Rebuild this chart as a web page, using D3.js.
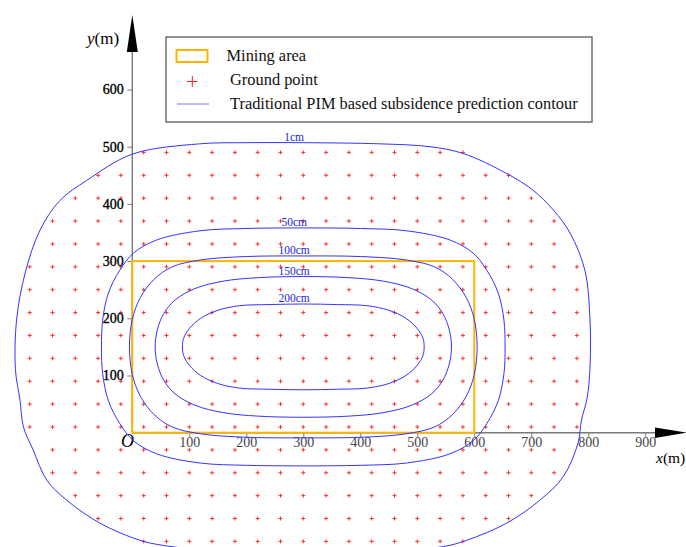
<!DOCTYPE html>
<html>
<head>
<meta charset="utf-8">
<script src="https://cdn.jsdelivr.net/npm/d3@7"></script>
<style>
body { margin: 0; background: #fff; }
text { font-family: "Liberation Serif", "Times New Roman", serif; }
</style>
</head>
<body>
<div id="chart"></div>
<script>
// tick values (m)
var xTicks = [100, 200, 300, 400, 500, 600, 700, 800, 900];
var yTicks = [100, 200, 300, 400, 500, 600];

// mining panel corners (m)
var miningArea = [[0, 0], [600, 300]];

// ground point grid: columns and rows (m), with the x span used in each row
var gridX = [-180, -140, -100, -60, -20, 20, 60, 100, 140, 180, 220, 260, 300, 340, 380,
  420, 460, 500, 540, 580, 620, 660, 700, 740, 780];
var rowY = [490, 450, 410, 370, 330, 290, 250, 210, 170, 130, 90, 50, 10, -30, -70, -110, -150, -190];
var rowSpan = [[20, 580], [-60, 660], [-100, 700], [-140, 740], [-140, 740], [-180, 780],
  [-180, 780], [-180, 780], [-180, 780], [-180, 780], [-180, 780], [-180, 780], [-180, 780],
  [-140, 740], [-140, 740], [-100, 700], [-60, 660], [20, 580]];

// contour levels and traced outlines (m)
var levels = ["1cm", "50cm", "100cm", "150cm", "200cm"];
var contour1 = [[300,507],[434,505],[522,500],[581,488],[657,453],[703,424],[739,389],[768,349],
  [794,284],[803,197],[803,115],[798,61],[788,22],[782,-18],[756,-77],[715,-118],[657,-158],
  [587,-188],[546,-199],[450,-207],[300,-209],[150,-207],[54,-197],[13,-188],[-57,-158],
  [-115,-118],[-150,-83],[-174,-30],[-191,10],[-197,57],[-205,110],[-203,197],[-188,279],
  [-162,354],[-127,406],[-80,441],[0,487],[118,505],[200,507]];
var contour50 = [[300,358],[400,357],[481,353],[557,337],[598,314],[622,284],[642,244],[652,197],
  [654,150],[652,103],[642,56],[622,16],[598,-14],[557,-37],[481,-53],[400,-57],[300,-58],
  [200,-57],[119,-53],[43,-37],[2,-14],[-22,16],[-42,56],[-52,103],[-54,150],[-52,197],
  [-42,244],[-22,284],[2,314],[43,337],[119,353],[200,357]];
var contour100 = [[300,309],[400,308],[480,302],[530,290],[562,268],[586,236],[600,198],[605,150],
  [600,102],[586,64],[562,32],[530,10],[480,-2],[400,-8],[300,-9],[200,-8],[120,-2],[70,10],
  [38,32],[14,64],[0,102],[-5,150],[0,198],[14,236],[38,268],[70,290],[120,302],[200,308]];
var contour150 = [[300,273],[380,271],[440,265],[490,252],[525,232],[545,208],[556,180],[560,150],
  [556,120],[545,92],[525,68],[490,48],[440,35],[380,29],[300,27],[220,29],[160,35],[110,48],
  [75,68],[55,92],[44,120],[40,150],[44,180],[55,208],[75,232],[110,252],[160,265],[220,271]];
var contour200 = [[300,225],[360,224],[412,222],[450,214],[480,200],[500,182],[510,165],[512,150],
  [510,135],[500,118],[480,100],[450,86],[412,78],[360,76],[300,75],[240,76],[188,78],[150,86],
  [120,100],[100,118],[90,135],[88,150],[90,165],[100,182],[120,200],[150,214],[188,222],[240,224]];
var contours = [contour1, contour50, contour100, contour150, contour200];
var labelX = 284;

var legendLabels = ["Mining area", "Ground point", "Traditional PIM based subsidence prediction contour"];

var svgWidth = 686, svgHeight = 547;
var ox = 132.3, oy = 432.7;

var svg = d3.select("#chart").append("svg")
  .attr("width", svgWidth)
  .attr("height", svgHeight);

var x = d3.scaleLinear().domain([0, 900]).range([ox, ox + 513]);
var y = d3.scaleLinear().domain([0, 600]).range([oy, oy - 343.2]);

var red = "#ff1a1a", blue = "#3434ff", gold = "#ffb400", axisGray = "#7a7a7a";

// ground points
var points = [];
rowY.forEach(function(ry, i) {
  gridX.forEach(function(gx) {
    if (gx >= rowSpan[i][0] && gx <= rowSpan[i][1]) points.push([gx, ry]);
  });
});

svg.append("g").selectAll("path")
  .data(points)
  .enter()
  .append("path")
  .attr("d", function(d) {
    var px = x(d[0]), py = y(d[1]);
    return "M" + (px - 2) + "," + py + "H" + (px + 2) + "M" + px + "," + (py - 2) + "V" + (py + 2);
  })
  .attr("stroke", red)
  .attr("stroke-width", 1)
  .attr("opacity", 0.9);

// axes
var bottomAxis = d3.axisBottom(x).tickValues(xTicks).tickSize(5).tickSizeOuter(0);
var leftAxis = d3.axisLeft(y).tickValues(yTicks).tickSize(5).tickSizeOuter(0);

var gx = svg.append("g").attr("transform", `translate(0, ${oy})`).call(bottomAxis);
gx.select(".domain").remove();
gx.selectAll(".tick line").attr("stroke", axisGray);
gx.selectAll(".tick text").attr("font-family", "Liberation Serif").attr("font-size", 14)
  .attr("fill", "#444").attr("dy", "0.45em");

var gy = svg.append("g").attr("transform", `translate(${ox}, 0)`).call(leftAxis);
gy.select(".domain").remove();
gy.selectAll(".tick line").attr("stroke", axisGray);
gy.selectAll(".tick text").attr("font-family", "Liberation Serif").attr("font-size", 14)
  .attr("fill", "#000").attr("stroke", "#000").attr("stroke-width", 0.35).attr("x", -8.5);

svg.append("line").attr("x1", ox).attr("y1", oy).attr("x2", 660).attr("y2", oy)
  .attr("stroke", axisGray).attr("stroke-width", 1.4);
svg.append("line").attr("x1", ox).attr("y1", oy).attr("x2", ox).attr("y2", 48)
  .attr("stroke", axisGray).attr("stroke-width", 1.4);
svg.append("path").attr("d", `M${ox},15 L${ox - 5.5},52 L${ox + 5.5},52 Z`).attr("fill", "#000");
svg.append("path").attr("d", `M687,${oy} L655,${oy - 5.3} L655,${oy + 5.3} Z`).attr("fill", "#000");

// axis titles
var yt = svg.append("text").attr("x", 87).attr("y", 44).attr("font-size", 17);
yt.append("tspan").attr("font-style", "italic").text("y");
yt.append("tspan").text("(m)");
var xt = svg.append("text").attr("x", 656).attr("y", 463).attr("font-size", 15.5);
xt.append("tspan").attr("font-style", "italic").text("x");
xt.append("tspan").text("(m)");
svg.append("text").attr("x", 121).attr("y", 447).attr("font-size", 18)
  .attr("font-style", "italic").text("O");

// mining area
svg.append("rect")
  .attr("x", x(miningArea[0][0]))
  .attr("y", y(miningArea[1][1]))
  .attr("width", x(miningArea[1][0]) - x(miningArea[0][0]))
  .attr("height", y(miningArea[0][1]) - y(miningArea[1][1]))
  .attr("fill", "none")
  .attr("stroke", gold)
  .attr("stroke-width", 2);

// contours
var line = d3.line()
  .x(function(d) { return x(d[0]); })
  .y(function(d) { return y(d[1]); })
  .curve(d3.curveCatmullRomClosed.alpha(0.5));

svg.append("g").selectAll("path")
  .data(contours)
  .enter()
  .append("path")
  .attr("d", line)
  .attr("fill", "none")
  .attr("stroke", blue)
  .attr("stroke-width", 1);

svg.append("g").selectAll("text")
  .data(contours)
  .enter()
  .append("text")
  .attr("x", x(labelX))
  .attr("y", function(d) { return y(d[0][1]) - 2; })
  .attr("text-anchor", "middle")
  .attr("font-size", 11.5)
  .attr("fill", "#1c1ce0")
  .text(function(d, i) { return levels[i]; });

// legend
var legend = svg.append("g");
legend.append("rect").attr("x", 166).attr("y", 37).attr("width", 426).attr("height", 85)
  .attr("fill", "#fff").attr("stroke", "#5a5a5a").attr("stroke-width", 1.3);
legend.append("rect").attr("x", 176.5).attr("y", 50).attr("width", 31).attr("height", 12)
  .attr("fill", "none").attr("stroke", gold).attr("stroke-width", 2);
legend.append("path").attr("d", "M187,81.5H197.5M192.3,76V87")
  .attr("stroke", red).attr("stroke-width", 1);
legend.append("line").attr("x1", 177).attr("y1", 104).attr("x2", 209).attr("y2", 104)
  .attr("stroke", "#7b7bff").attr("stroke-width", 1);
var legendX = [226.5, 230, 230];
var legendY = [60.5, 85, 109];
legend.selectAll("text.lab")
  .data(legendLabels)
  .enter()
  .append("text")
  .attr("class", "lab")
  .attr("x", function(d, i) { return legendX[i]; })
  .attr("y", function(d, i) { return legendY[i]; })
  .attr("font-size", 16.4)
  .attr("fill", "#111")
  .text(function(d) { return d; });
</script>
</body>
</html>
